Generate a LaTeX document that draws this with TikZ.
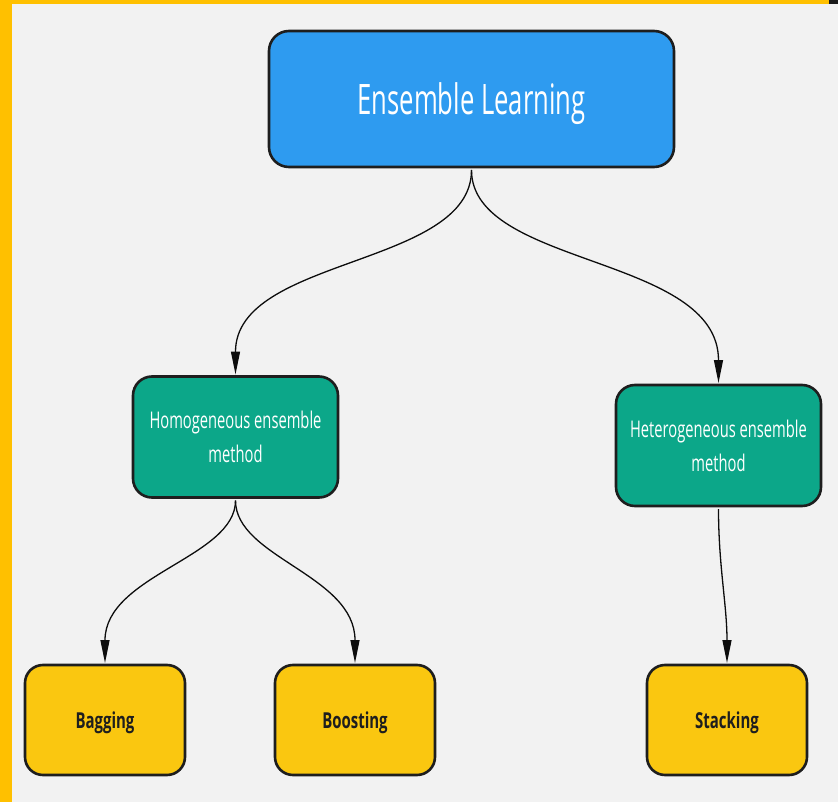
\documentclass[tikz,border=0pt]{standalone}
\usepackage{fontspec}
\setmainfont{Open Sans}
\newfontfamily\condfont[FakeStretch=0.61]{Open Sans}
\newfontfamily\midfont[FakeStretch=0.64]{Open Sans}
\newfontfamily\condbold[FakeStretch=0.68]{Open Sans Bold}
\usetikzlibrary{arrows.meta,calc}
\definecolor{bgcol}{HTML}{F2F2F2}
\definecolor{framecol}{HTML}{FFC000}
\definecolor{bluecol}{HTML}{2E9BF0}
\definecolor{greencol}{HTML}{0CA789}
\definecolor{yellowcol}{HTML}{FAC710}
\definecolor{edgecol}{HTML}{1E1E1E}
\begin{document}
\begin{tikzpicture}[x=1pt,y=-1pt,
  boxbase/.style={draw=edgecol, line width=2.6pt, inner sep=0pt, outer sep=0pt, align=center},
  rootbox/.style={boxbase, fill=bluecol, rounded corners=20pt, minimum width=405pt, minimum height=136pt,
    text=white, text depth=0pt, font=\condfont\fontsize{42}{50}\selectfont},
  midbox/.style={boxbase, fill=greencol, rounded corners=19pt, minimum width=205pt, minimum height=121pt,
    text=white, font=\midfont\fontsize{23}{34}\selectfont},
  leafbox/.style={boxbase, fill=yellowcol, rounded corners=18pt, minimum width=160pt, minimum height=110pt,
    text=edgecol, text depth=0pt, font=\condbold\fontsize{22}{26}\selectfont},
  conn/.style={draw=black!95, line width=1.3pt, -{Triangle[length=23pt,width=9pt]}, shorten <=3pt, shorten >=2pt}
]
\useasboundingbox (0,0) rectangle (838,802);
\fill[bgcol] (0,0) rectangle (838,802);
\fill[framecol] (0,0) rectangle (12,802);
\fill[framecol] (0,0) rectangle (829,4);
\fill[black!90] (829,0) rectangle (838,4);

\node[rootbox] (root) at (471.5,99) {Ensemble Learning};
\node[midbox] (hom) at (235.5,437) {Homogeneous ensemble\\method};
\node[midbox] (het) at (718.5,445.5) {Heterogeneous ensemble\\method};
\node[leafbox] (bag) at (105,720) {Bagging};
\node[leafbox] (boo) at (355,720) {Boosting};
\node[leafbox] (sta) at (727,720) {Stacking};

\draw[conn] (root.south) .. controls ($(root.south)+(0,100)$) and ($(hom.north)+(0,-120)$) .. (hom.north);
\draw[conn] (root.south) .. controls ($(root.south)+(0,100)$) and ($(het.north)+(0,-130)$) .. (het.north);
\draw[conn] (hom.south) .. controls ($(hom.south)+(0,60)$) and ($(bag.north)+(0,-90)$) .. (bag.north);
\draw[conn] (hom.south) .. controls ($(hom.south)+(0,60)$) and ($(boo.north)+(0,-90)$) .. (boo.north);
\draw[conn] (het.south) .. controls ($(het.south)+(0,60)$) and ($(sta.north)+(0,-60)$) .. (sta.north);
\end{tikzpicture}
\end{document}
